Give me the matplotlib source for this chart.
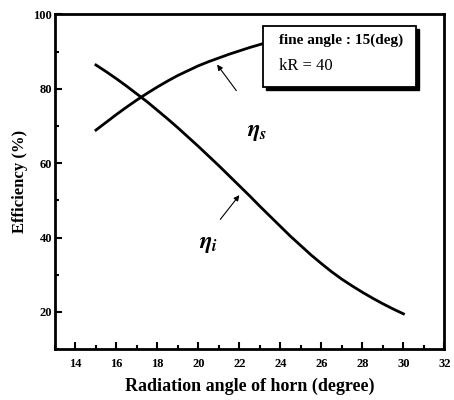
import matplotlib
matplotlib.use("Agg")
import matplotlib.pyplot as plt
from matplotlib.patches import Rectangle
from matplotlib.ticker import MultipleLocator

plt.rcParams['mathtext.fontset'] = 'stix'

# Radiation angle of horn (degree)
angle = [15, 15.5, 16, 16.5, 17, 17.5, 18, 18.5, 19, 19.5, 20, 20.5, 21, 21.5,
         22, 22.5, 23, 23.5, 24, 24.5, 25, 25.5, 26, 26.5, 27, 27.5, 28, 28.5,
         29, 29.5, 30]
# Spillover efficiency eta_s (%)
eta_s = [68.9, 71.0, 73.1, 75.1, 77.0, 78.8, 80.5, 82.1, 83.6, 84.9, 86.2, 87.3,
         88.3, 89.3, 90.2, 91.1, 91.9, 92.7, 93.4, 94.0, 94.5, 94.9, 95.2, 95.5,
         95.7, 95.85, 95.95, 96.0, 96.0, 96.0, 96.0]
# Illumination efficiency eta_i (%)
eta_i = [86.4, 84.6, 82.7, 80.7, 78.6, 76.5, 74.2, 71.9, 69.5, 67.0, 64.5, 61.9,
         59.3, 56.6, 53.9, 51.2, 48.4, 45.7, 43.0, 40.3, 37.8, 35.3, 33.0, 30.8,
         28.8, 27.0, 25.3, 23.7, 22.2, 20.8, 19.5]

x_ticks = [14, 16, 18, 20, 22, 24, 26, 28, 30, 32]
y_ticks = [20, 40, 60, 80, 100]

serif = 'Liberation Serif'

fig = plt.figure(figsize=(4.54, 4.0), dpi=100)
ax = fig.add_axes([0.121, 0.127, 0.858, 0.837])

ax.plot(angle, eta_s, color='black', lw=2.0, zorder=3)
ax.plot(angle, eta_i, color='black', lw=2.0, zorder=3)

ax.set_xlim(13, 32)
ax.set_ylim(10, 100)
ax.set_xticks(x_ticks)
ax.set_yticks(y_ticks)
ax.xaxis.set_minor_locator(MultipleLocator(1))
ax.yaxis.set_minor_locator(MultipleLocator(10))
ax.tick_params(which='both', direction='in', top=False, right=False, width=1.5)
ax.tick_params(which='major', length=5)
ax.tick_params(which='minor', length=3)
ax.tick_params(axis='x', which='major', pad=6)
ax.tick_params(axis='y', which='major', pad=2)
for lab in ax.get_xticklabels() + ax.get_yticklabels():
    lab.set_family(serif)
    lab.set_fontweight('bold')
    lab.set_fontsize(9)
for sp in ax.spines.values():
    sp.set_linewidth(2.0)

ax.set_xlabel('Radiation angle of horn (degree)', family=serif, fontweight='bold',
              fontsize=13, labelpad=6)
ax.set_ylabel('Efficiency (%)', family=serif, fontweight='bold', fontsize=12, labelpad=4)

# Parameter box with drop shadow
bx0, bx1, by0, by1 = 23.15, 30.6, 80.4, 97.0
ax.add_patch(Rectangle((bx0 + 0.16, by0 - 0.8), bx1 - bx0, by1 - by0,
                       facecolor='black', edgecolor='black', zorder=5))
ax.add_patch(Rectangle((bx0, by0), bx1 - bx0, by1 - by0,
                       facecolor='white', edgecolor='black', lw=1.3, zorder=6))
ax.text(bx0 + 0.8, 93.0, 'fine angle : 15(deg)', family=serif, fontweight='bold',
        fontsize=11, va='center', ha='left', zorder=7)
ax.text(bx0 + 0.8, 86.0, 'kR = 40', family=serif, fontsize=12,
        va='center', ha='left', zorder=7)

# Curve labels with pointer arrows
ax.text(22.85, 68.6, r'$\boldsymbol{\eta}_{\boldsymbol{s}}$', fontsize=17,
        ha='center', va='center')
ax.text(20.5, 38.5, r'$\boldsymbol{\eta}_{\boldsymbol{i}}$', fontsize=17,
        ha='center', va='center')
ax.annotate('', xy=(20.83, 87.1), xytext=(21.93, 78.9),
            arrowprops=dict(arrowstyle='-|>', lw=0.8, color='black',
                            mutation_scale=8))
ax.annotate('', xy=(22.08, 52.0), xytext=(20.98, 44.3),
            arrowprops=dict(arrowstyle='-|>', lw=0.8, color='black',
                            mutation_scale=8))

fig.savefig('out.png', dpi=100)
